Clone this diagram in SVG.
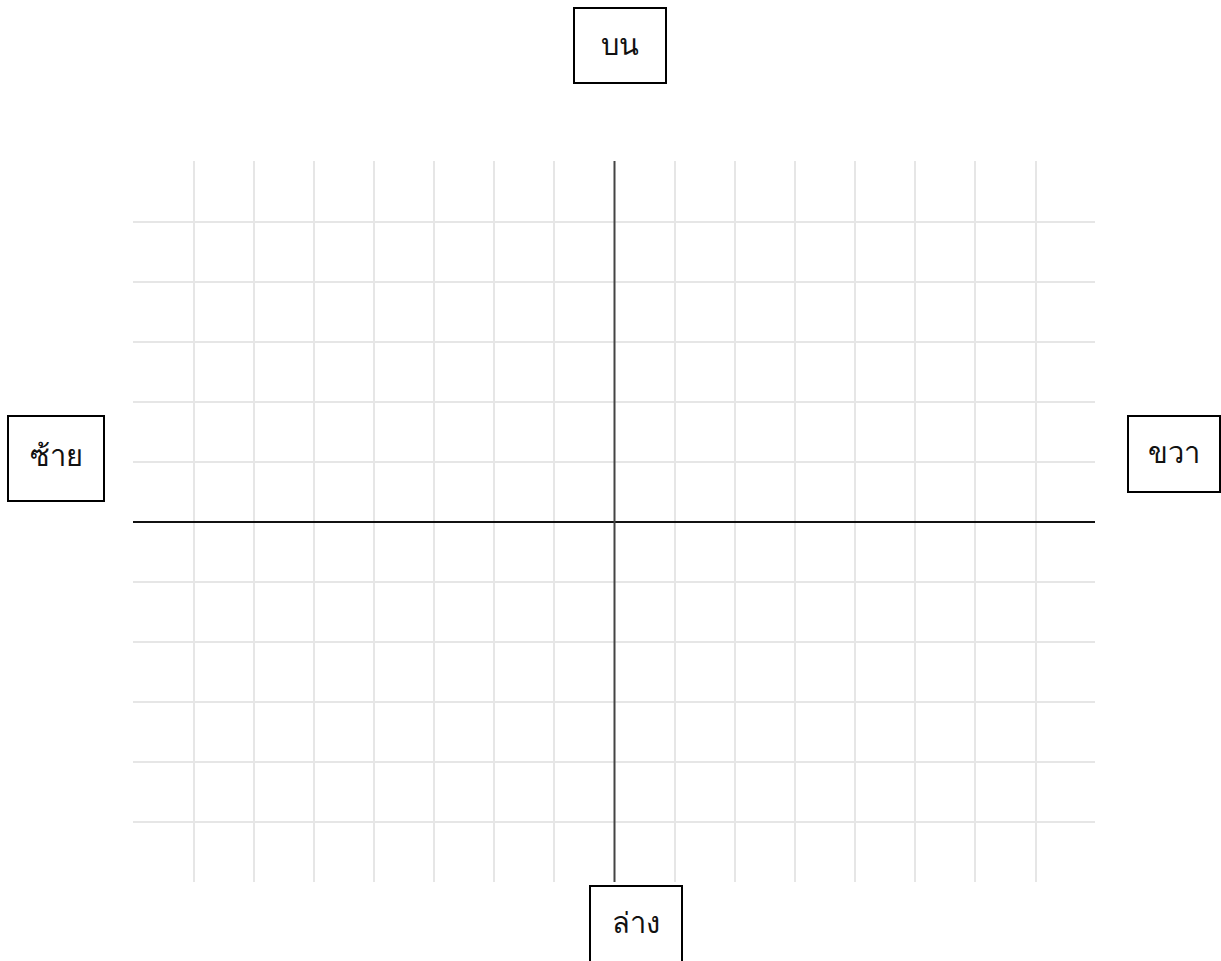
<svg xmlns="http://www.w3.org/2000/svg" width="1221" height="961" viewBox="0 0 1221 961">
<style>
.grid line{stroke:#e6e6e6;stroke-width:2}
.box{fill:#fff;stroke:#000;stroke-width:2}
.lbl{font-family:"Noto Sans","DejaVu Sans",sans-serif;font-size:29px;font-weight:300;fill:#111;text-anchor:middle}
</style>
<rect width="1221" height="961" fill="#fff"/>
<g id="grid" class="grid">
<line x1="194" y1="161" x2="194" y2="882"/>
<line x1="254" y1="161" x2="254" y2="882"/>
<line x1="314" y1="161" x2="314" y2="882"/>
<line x1="374" y1="161" x2="374" y2="882"/>
<line x1="434" y1="161" x2="434" y2="882"/>
<line x1="494" y1="161" x2="494" y2="882"/>
<line x1="554" y1="161" x2="554" y2="882"/>
<line x1="675" y1="161" x2="675" y2="882"/>
<line x1="735" y1="161" x2="735" y2="882"/>
<line x1="795" y1="161" x2="795" y2="882"/>
<line x1="855" y1="161" x2="855" y2="882"/>
<line x1="915" y1="161" x2="915" y2="882"/>
<line x1="975" y1="161" x2="975" y2="882"/>
<line x1="1036" y1="161" x2="1036" y2="882"/>
<line x1="133" y1="222" x2="1095" y2="222"/>
<line x1="133" y1="282" x2="1095" y2="282"/>
<line x1="133" y1="342" x2="1095" y2="342"/>
<line x1="133" y1="402" x2="1095" y2="402"/>
<line x1="133" y1="462" x2="1095" y2="462"/>
<line x1="133" y1="582" x2="1095" y2="582"/>
<line x1="133" y1="642" x2="1095" y2="642"/>
<line x1="133" y1="702" x2="1095" y2="702"/>
<line x1="133" y1="762" x2="1095" y2="762"/>
<line x1="133" y1="822" x2="1095" y2="822"/>
</g>
<g id="connectors">
<line x1="133" y1="522" x2="1095" y2="522" stroke="#111" stroke-width="2"/>
<line x1="614.5" y1="161" x2="614.5" y2="882" stroke="#444" stroke-width="2"/>
</g>
<g id="top">
<rect class="box" x="574" y="8" width="92" height="75"/>
<text class="lbl" x="620" y="55">บน</text>
</g>
<g id="left">
<rect class="box" x="8" y="416" width="96" height="85"/>
<text class="lbl" x="56" y="466">ซ้าย</text>
</g>
<g id="right">
<rect class="box" x="1128" y="416" width="92" height="76"/>
<text class="lbl" x="1174" y="463">ขวา</text>
</g>
<g id="bottom">
<rect class="box" x="590" y="886" width="92" height="85"/>
<text class="lbl" x="636" y="933">ล่าง</text>
</g>
</svg>
